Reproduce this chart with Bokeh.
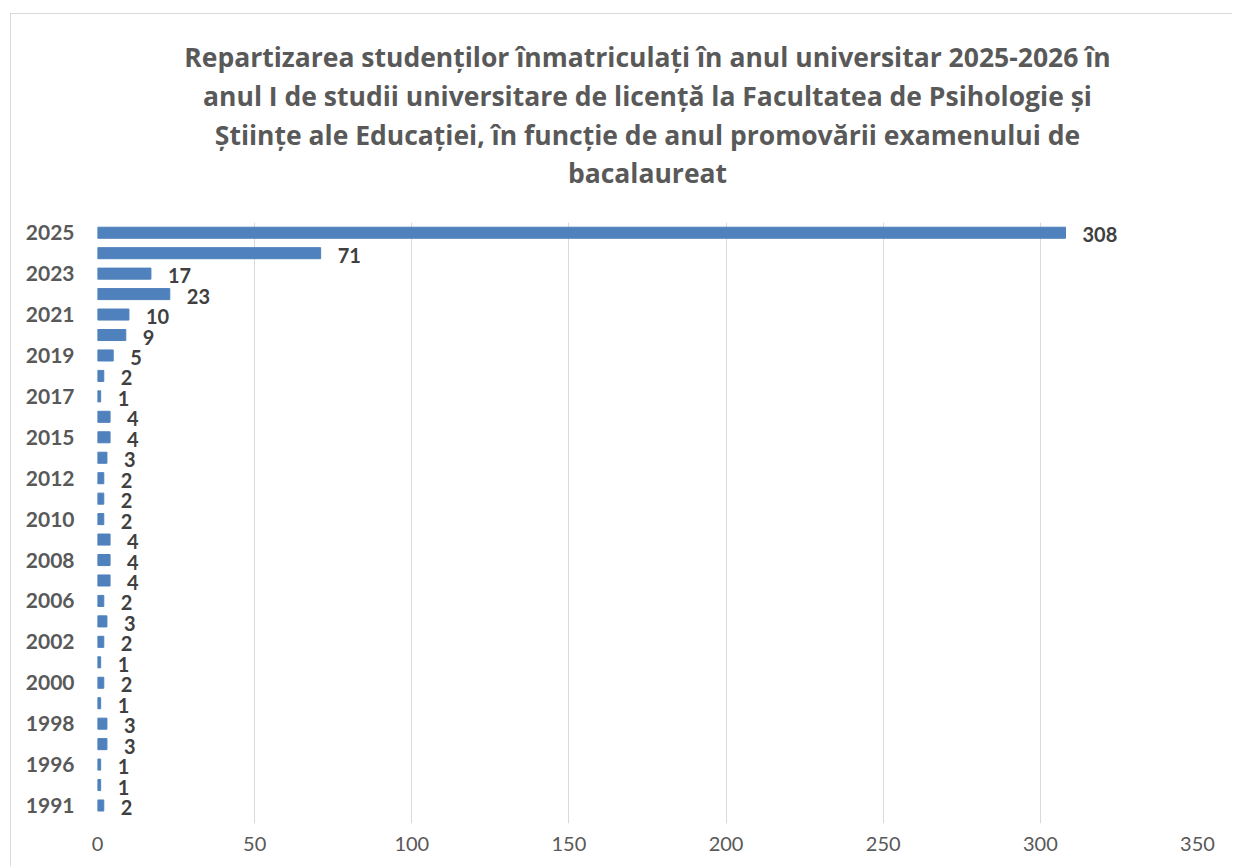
from bokeh.plotting import figure
from bokeh.models import Range1d, FixedTicker, Title, ColumnDataSource, LinearAxis
from bokeh.core.properties import value
from bokeh.embed import file_html
from bokeh.resources import INLINE

years = ["2025", "2024", "2023", "2022", "2021", "2020", "2019", "2018", "2017", "2016",
         "2015", "2013", "2012", "2011", "2010", "2009", "2008", "2007", "2006", "2004",
         "2002", "2001", "2000", "1999", "1998", "1997", "1996", "1993", "1991"]
counts = [308, 71, 17, 23, 10, 9, 5, 2, 1, 4,
          4, 3, 2, 2, 2, 4, 4, 4, 2, 3,
          2, 1, 2, 1, 3, 3, 1, 1, 2]
shown_every = 2
x_ticks = [0, 50, 100, 150, 200, 250, 300, 350]
title_lines = [
    "Repartizarea studenților înmatriculați în anul universitar 2025-2026 în",
    "anul I de studii universitare de licență la Facultatea de Psihologie și",
    "Științe ale Educației, în funcție de anul promovării examenului de",
    "bacalaureat",
]

FONT = "Lato"
TFONT = "Open Sans"
idx = list(range(len(years)))
src = ColumnDataSource(dict(y=idx, v=counts, lab=[str(c) for c in counts]))

p = figure(width=1232, height=866, output_backend="svg", toolbar_location=None, title=None,
           x_range=Range1d(0, 350), y_range=Range1d(len(years) - 0.12, -0.5),
           min_border_left=97, min_border_right=35, min_border_top=222, min_border_bottom=43,
           background_fill_color="white", border_fill_color=None)
p.outline_line_color = None
p.styles = {
    "background": "linear-gradient(#d9d9d9,#d9d9d9) 10px 13px / 1px 100% no-repeat, "
                  "linear-gradient(#d9d9d9,#d9d9d9) 10px 13px / 100% 1px no-repeat, white"
}

p.hbar(y="y", right="v", left=0, height=0.54, source=src, fill_color="#4f81bd",
       line_color="#4f81bd")
p.text(x="v", y="y", text="lab", source=src, x_offset=17, y_offset=2,
       text_baseline="middle", text_align="left", text_font=value(FONT),
       text_font_style="bold", text_font_size="20px", text_color="#404040")

p.xaxis.ticker = FixedTicker(ticks=x_ticks)
p.xaxis.axis_line_color = None
p.xaxis.major_tick_line_color = None
p.xaxis.minor_tick_line_color = None
p.xaxis.major_label_standoff = 7
p.xaxis.major_label_text_font = FONT
p.xaxis.major_label_text_font_size = "20px"
p.xaxis.major_label_text_color = "#595959"

yt = idx[::shown_every]
p.yaxis.ticker = FixedTicker(ticks=yt)
p.yaxis.major_label_overrides = {i: years[i] for i in yt}
p.yaxis.axis_line_color = None
p.yaxis.major_tick_line_color = None
p.yaxis.minor_tick_line_color = None
p.yaxis.major_label_standoff = 17
p.yaxis.major_label_text_font = FONT
p.yaxis.major_label_text_font_style = "bold"
p.yaxis.major_label_text_font_size = "21px"
p.yaxis.major_label_text_color = "#595959"

p.ygrid.grid_line_color = None
p.xgrid.grid_line_color = "#d9d9d9"
p.xgrid.grid_line_width = 1

# tick-only axis (white, no labels) used as a spacer between frame and title block
spacer = LinearAxis(ticker=FixedTicker(ticks=[350]), axis_line_color=None,
                    major_tick_line_color="white", minor_tick_line_color=None,
                    major_tick_out=32, minor_tick_out=0, major_tick_in=0, minor_tick_in=0,
                    major_label_standoff=0, major_label_text_color=None)
p.add_layout(spacer, "above")

standoffs = [0, 2, 0, 0]
for t, so in reversed(list(zip(title_lines, standoffs))):
    p.add_layout(Title(text=t, align="center", offset=-19, standoff=so, text_font=TFONT,
                       text_font_style="bold", text_font_size="26.5px",
                       text_color="#595959"), "above")

open("out.html", "w").write(file_html(p, INLINE))
